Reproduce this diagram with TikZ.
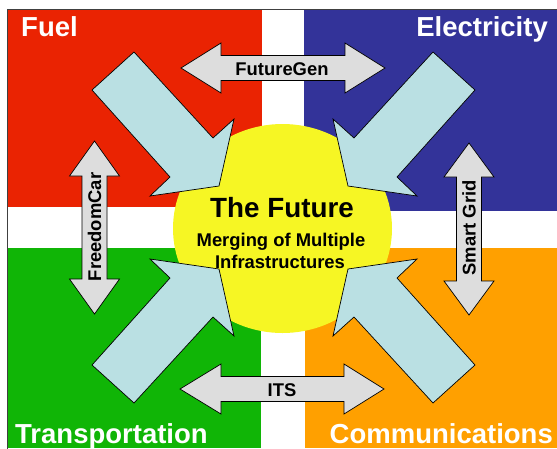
\documentclass[tikz,border=0pt]{standalone}
\usepackage{fontspec}
\setmainfont{Liberation Sans}

\definecolor{fuelred}{RGB}{234,35,2}
\definecolor{elecblue}{RGB}{51,51,153}
\definecolor{transgreen}{RGB}{16,181,6}
\definecolor{commorange}{RGB}{255,160,0}
\definecolor{futureyellow}{RGB}{246,246,36}
\definecolor{pipeblue}{RGB}{186,224,227}
\definecolor{linkgray}{RGB}{221,221,221}

\begin{document}
\begin{tikzpicture}[x=1pt,y=-1pt,
    pipe/.style={fill=pipeblue,draw=black,line width=0.7pt},
    link/.style={fill=linkgray,draw=black,line width=0.7pt},
    corner/.style={text=white,inner sep=0pt,font=\bfseries\fontsize{27.5}{32}\selectfont},
    tag/.style={inner sep=0pt,font=\bfseries\fontsize{18.4}{21}\selectfont}]
            \useasboundingbox (0,0) rectangle (557,448);
            \clip (0,0) rectangle (557,448);

            \fill[fuelred] (8,10) rectangle (262,207);
            \fill[elecblue] (304,10) rectangle (557,211);
            \fill[transgreen] (8,248) rectangle (261,448);
            \fill[commorange] (305,248) rectangle (557,448);
            \draw[line width=1pt,black!75] (7,460) -- (7,9) -- (570,9);

            \fill[futureyellow] (282.5,228.5) ellipse (109.5pt and 104.5pt);

            \draw[pipe] (134,52) -- (213,138) -- (234,119) -- (219,186) -- (150,196) -- (170,177) -- (92,90) -- cycle;
            \draw[pipe] (433,52) -- (354,138) -- (333,119) -- (348,186) -- (417,196) -- (397,177) -- (475,90) -- cycle;
            \draw[pipe] (134,403) -- (213,317) -- (234,336) -- (219,269) -- (150,259) -- (170,278) -- (92,365) -- cycle;
            \draw[pipe] (433,403) -- (354,317) -- (333,336) -- (348,269) -- (417,259) -- (397,278) -- (475,365) -- cycle;

            \draw[link] (181,68) -- (221,43) -- (221,55.5) -- (345,55.5) -- (345,43) -- (385,68)
                -- (345,93) -- (345,80.5) -- (221,80.5) -- (221,93) -- cycle;
            \draw[link] (180,389) -- (221,364) -- (221,376.5) -- (344,376.5) -- (344,364) -- (384,389)
                -- (344,414) -- (344,401.5) -- (221,401.5) -- (221,414) -- cycle;
            \draw[link] (94.5,141) -- (119.5,176) -- (107,176) -- (107,279) -- (119.5,279) -- (94.5,314)
                -- (69.5,279) -- (82,279) -- (82,176) -- (69.5,176) -- cycle;
            \draw[link] (469,143) -- (494,177) -- (481.5,177) -- (481.5,281) -- (494,281) -- (469,315)
                -- (444,281) -- (456.5,281) -- (456.5,177) -- (444,177) -- cycle;

            \node[corner,anchor=base west] (fuel) at (21,36) {Fuel};
            \node[corner,anchor=base east] (electricity) at (548,36) {Electricity};
            \node[corner,anchor=base west] (transport) at (15,443) {Transportation};
            \node[corner,anchor=base east] (comms) at (553,443) {Communications};

            \node[tag,anchor=base] (futuregen) at (282,75) {FutureGen};
            \node[tag,anchor=base] (its) at (282,396) {ITS};
            \node[tag,anchor=base,rotate=90] (freedomcar) at (101,227) {FreedomCar};
            \node[tag,anchor=base,rotate=90] (smartgrid) at (475.5,228) {Smart Grid};

            \node[inner sep=0pt,anchor=base,font=\bfseries\fontsize{27.8}{32}\selectfont] (future) at (282,217) {The Future};
            \node[tag,anchor=base] (merging) at (281,246) {Merging of Multiple};
            \node[tag,anchor=base] (infra) at (280,268) {Infrastructures};
        \end{tikzpicture}
\end{document}
